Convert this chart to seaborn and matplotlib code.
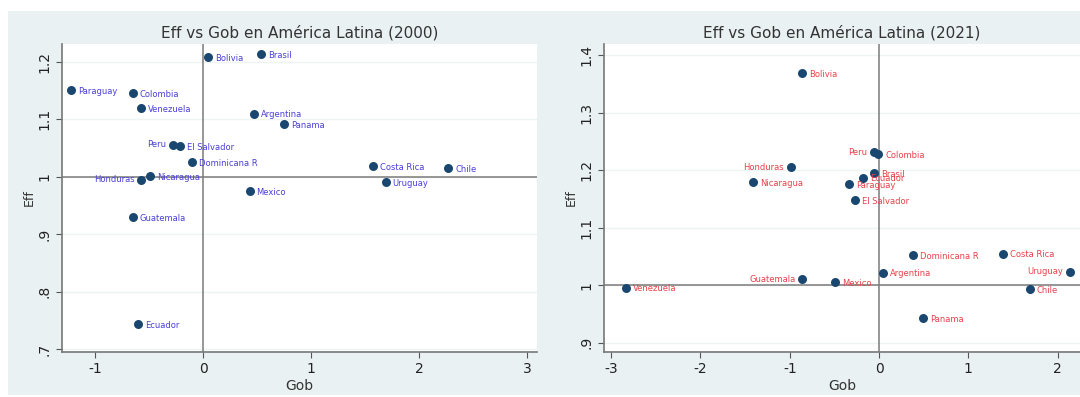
import seaborn as sns
import matplotlib.pyplot as plt
from matplotlib.patches import Rectangle
import pandas as pd

# 2000
countries_2000 = ["Paraguay", "Colombia", "Venezuela", "Bolivia", "Brasil", "Argentina",
                  "Panama", "Peru", "El Salvador", "Dominicana R", "Costa Rica", "Chile",
                  "Nicaragua", "Honduras", "Uruguay", "Mexico", "Guatemala", "Ecuador"]
gob_2000 = [-1.22, -0.65, -0.57, 0.05, 0.54, 0.47, 0.75, -0.28, -0.21, -0.10, 1.57, 2.27,
            -0.49, -0.57, 1.69, 0.43, -0.65, -0.60]
eff_2000 = [1.151, 1.145, 1.119, 1.209, 1.213, 1.110, 1.092, 1.056, 1.054, 1.026, 1.019, 1.015,
            1.001, 0.995, 0.990, 0.975, 0.930, 0.743]
left_2000 = ["Peru", "Honduras"]

# 2021
countries_2021 = ["Bolivia", "Peru", "Colombia", "Honduras", "Brasil", "Ecuador", "Nicaragua",
                  "Paraguay", "El Salvador", "Dominicana R", "Costa Rica", "Argentina",
                  "Uruguay", "Guatemala", "Mexico", "Venezuela", "Chile", "Panama"]
gob_2021 = [-0.86, -0.06, -0.01, -0.99, -0.06, -0.18, -1.41, -0.34, -0.27, 0.38, 1.39, 0.04,
            2.14, -0.86, -0.49, -2.83, 1.69, 0.49]
eff_2021 = [1.369, 1.231, 1.228, 1.205, 1.195, 1.187, 1.179, 1.175, 1.148, 1.052, 1.055, 1.022,
            1.023, 1.010, 1.006, 0.996, 0.994, 0.943]
left_2021 = ["Peru", "Honduras", "Guatemala", "Uruguay"]

BG = "#eaf1f3"
NAVY = "#1a476f"

fig = plt.figure(figsize=(10.8, 3.97), dpi=100, facecolor="white")
fig.patches.append(Rectangle((8 / 1080, 2 / 397), 1 - 8 / 1080, 1 - 13 / 397,
                             transform=fig.transFigure, facecolor=BG, edgecolor="none", zorder=-10))


def panel(rect, gob, eff, names, left_names, title, xlim, ylim, xticks, yticks, ylabels, txtcolor):
    ax = fig.add_axes(rect)
    df = pd.DataFrame({"Gob": gob, "Eff": eff, "name": names})
    ax.set_facecolor("white")
    for y in yticks:
        ax.axhline(y, color="#eef3f4", lw=1, zorder=0)
    ax.axvline(0, color="#7a7a7a", lw=1.1, zorder=1)
    ax.axhline(1, color="#7a7a7a", lw=1.1, zorder=1)
    sns.scatterplot(data=df, x="Gob", y="Eff", ax=ax, color=NAVY, s=42,
                    edgecolor=NAVY, linewidth=0, zorder=3)
    for _, r in df.iterrows():
        if r["name"] in left_names:
            ax.annotate(r["name"], (r["Gob"], r["Eff"]), xytext=(-5, 0),
                        textcoords="offset points", ha="right", va="center",
                        fontsize=6, color=txtcolor, zorder=4)
        else:
            ax.annotate(r["name"], (r["Gob"], r["Eff"]), xytext=(5, -1),
                        textcoords="offset points", ha="left", va="center",
                        fontsize=6, color=txtcolor, zorder=4)
    ax.set_xlim(*xlim)
    ax.set_ylim(*ylim)
    ax.set_xticks(xticks)
    ax.set_xticklabels([str(t) for t in xticks])
    ax.set_yticks(yticks)
    ax.set_yticklabels(ylabels, rotation=90, va="center")
    ax.tick_params(axis="both", labelsize=10, color="#555555", length=4, width=0.8,
                   labelcolor="#222222")
    for s in ["top", "right"]:
        ax.spines[s].set_visible(False)
    for s in ["left", "bottom"]:
        ax.spines[s].set_color("#777777")
        ax.spines[s].set_linewidth(1.2)
    ax.set_xlabel("Gob", fontsize=10, color="#333333", labelpad=2)
    ax.set_ylabel("Eff", fontsize=9, color="#333333", labelpad=1)
    ax.set_title(title, fontsize=11, color="#333333", pad=5)
    return ax


panel([62 / 1080, 45 / 397, 475 / 1080, 308 / 397], gob_2000, eff_2000, countries_2000,
      left_2000, "Eff vs Gob en América Latina (2000)", (-1.305, 3.09), (0.695, 1.231),
      [-1, 0, 1, 2, 3], [0.7, 0.8, 0.9, 1.0, 1.1, 1.2], [".7", ".8", ".9", "1", "1.1", "1.2"],
      "#4a3fd9")

panel([604 / 1080, 45 / 397, 476 / 1080, 308 / 397], gob_2021, eff_2021, countries_2021,
      left_2021, "Eff vs Gob en América Latina (2021)", (-3.08, 2.25), (0.884, 1.419),
      [-3, -2, -1, 0, 1, 2], [0.9, 1.0, 1.1, 1.2, 1.3, 1.4], [".9", "1", "1.1", "1.2", "1.3", "1.4"],
      "#e8404a")

fig.savefig("out.png", dpi=100, facecolor=fig.get_facecolor())
